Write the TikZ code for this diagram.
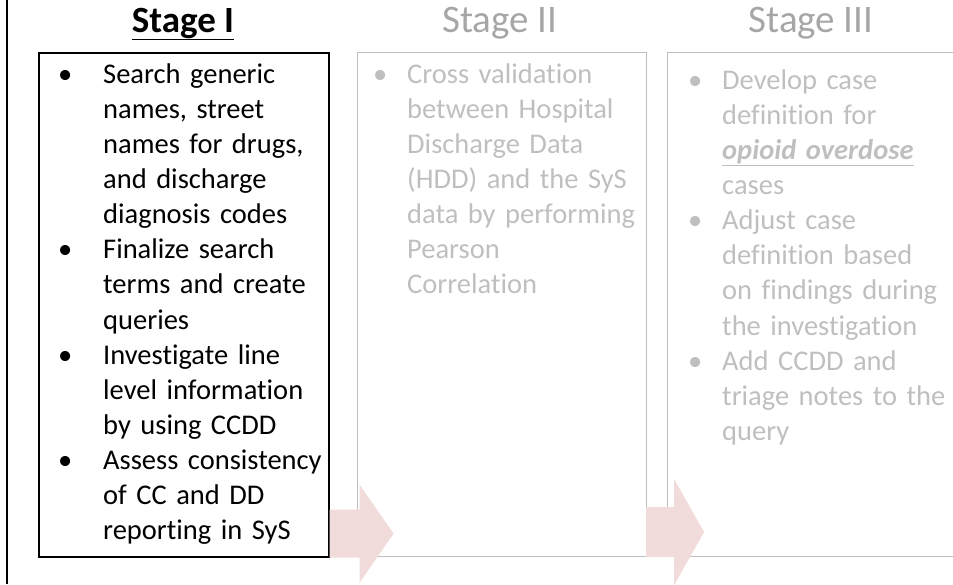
\documentclass[tikz,border=0pt]{standalone}
\usepackage{fontspec}
\setmainfont{Carlito}[Ligatures=NoCommon]
\definecolor{fadeline}{HTML}{BFBFBF}
\definecolor{fadetitle}{HTML}{A6A6A6}
\definecolor{fadetext}{HTML}{BFBFBF}
\definecolor{arrowpink}{HTML}{F2DCDB}
\newcommand{\bul}{\leavevmode\llap{\makebox[45pt][l]{\textbullet}}}
\newcommand{\bulII}{\leavevmode\llap{\makebox[34pt][l]{\textbullet}}}
\tikzset{
  stagebox/.style={draw, inner sep=0pt, anchor=north west, minimum height=504pt},
  activebox/.style={stagebox, draw=black, line width=1.6pt},
  fadedbox/.style={stagebox, draw=fadeline, line width=1.1pt},
  stagetitle/.style={anchor=base, inner sep=0pt, font=\fontsize{39}{42}\selectfont},
  itemlist/.style={anchor=base west, inner sep=0pt, align=left, text width=240pt,
    font=\fontsize{28.5}{35.15}\selectfont},
  flowarrow/.style={fill=arrowpink, draw=none}
}
\begin{document}
\begin{tikzpicture}[x=1pt, y=-1pt]
\useasboundingbox (0,0) rectangle (953,584);
\clip (0,0) rectangle (953,584);

% frame edge on the left
\coordinate (frametop) at (7,0);
\coordinate (framebot) at (7,584);
\draw[line width=2pt] (frametop) -- (framebot);

% the three stage boxes
\node[activebox, minimum width=290pt] (box1) at (38,52) {};
\node[fadedbox, minimum width=289pt] (box2) at (357,52) {};
\node[fadedbox, minimum width=290pt] (box3) at (667,52) {};

% arrows between the stages
\fill[flowarrow] (box1.south east) ++(0,-48) -- ++(30,0) -- ++(0,-25) -- ++(34,49)
  -- ++(-34,49) -- ++(0,-25) -- ++(-30,0) -- cycle;
\fill[flowarrow] (box2.south east) ++(-1,-50) -- ++(28,0) -- ++(0,-28) -- ++(30,53)
  -- ++(-30,53) -- ++(0,-28) -- ++(-28,0) -- cycle;

% titles
\node[stagetitle, font=\fontsize{37}{42}\selectfont] (title1) at (183,32) {\textbf{\underline{Stage I}}};
\node[stagetitle, text=fadetitle] (title2) at (500,32) {Stage II};
\node[stagetitle, text=fadetitle] (title3) at (811,32) {Stage III};

% stage I items
\node[itemlist] (list1) at (103,83) {%
\bul Search generic\\
names, street\\
names for drugs,\\
and discharge\\
diagnosis codes\\
\bul Finalize search\\
terms and create\\
queries\\
\bul Investigate line\\
level information\\
by using CCDD\\
\bul Assess consistency\\
of CC and DD\\
reporting in SyS};

% stage II items
\node[itemlist, text=fadetext] (list2) at (407,83) {%
\bulII Cross validation\\
between Hospital\\
Discharge Data\\
(HDD) and the SyS\\
data by performing\\
Pearson\\
Correlation};

% stage III items
\node[itemlist, text=fadetext] (list3) at (722,89) {%
\bulII Develop case\\
definition for\\
\underline{\textbf{\textit{opioid overdose}}}\\
cases\\
\bulII Adjust case\\
definition based\\
on findings during\\
the investigation\\
\bulII Add CCDD and\\
triage notes to the\\
query};
\end{tikzpicture}
\end{document}
